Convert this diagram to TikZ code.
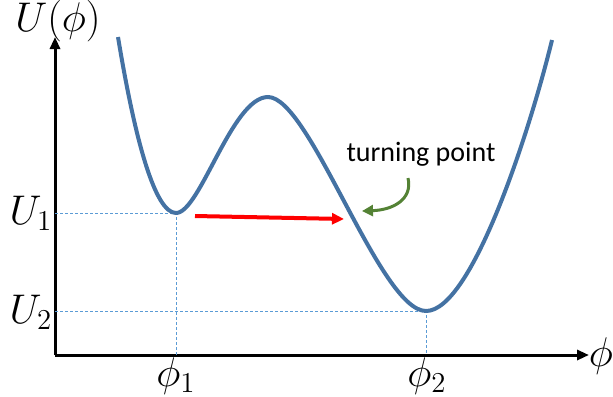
\documentclass[tikz,border=0pt]{standalone}
\usepackage[no-math]{fontspec}
\setmainfont{Carlito}
\usepackage{tikz}
\usetikzlibrary{arrows.meta,positioning,calc}

\definecolor{curveblue}{RGB}{68,114,163}
\definecolor{guideblue}{RGB}{91,155,213}
\definecolor{turngreen}{RGB}{84,130,53}

\tikzset{
  axis/.style={line width=1.5pt,-{Triangle[length=6pt,width=5pt]}},
  potential/.style={curveblue,line width=2pt},
  guide/.style={guideblue,line width=0.5pt,dash pattern=on 1.5pt off 1pt},
  mathlabel/.style={font=\fontsize{20}{24}\selectfont,inner sep=0pt},
  jump/.style={red,line width=2pt,-{Triangle[length=6pt,width=5.5pt]}},
  turn/.style={turngreen,line width=1.5pt,-{Triangle[length=5.5pt,width=5.5pt]}}
}

\begin{document}
\begin{tikzpicture}[x=0.5pt,y=-0.5pt]
  \useasboundingbox (0,0) rectangle (613,396);

  % axes
  \coordinate (O) at (55,355);
  \coordinate (ytop) at (55,37);
  \coordinate (xend) at (589,355);
  \draw[axis] (O) -- (ytop);
  \draw[axis] (O) -- (xend);

  % extrema of U
  \coordinate (min1) at (176,213);
  \coordinate (max) at (268,97);
  \coordinate (min2) at (426,311);

  % guide lines
  \coordinate (u1) at (55,213);
  \coordinate (u2) at (55,311);
  \coordinate (p1) at (176,355);
  \coordinate (p2) at (426,355);
  \draw[guide] (u1) -- (min1) -- (p1);
  \draw[guide] (u2) -- (min2) -- (p2);

  % the potential
  \draw[potential] (118,37) .. controls (135,140) and (155,213) .. (min1)
    .. controls (200,213) and (232,97) .. (max)
    .. controls (310,97) and (380,311) .. (min2)
    .. controls (472,311) and (530,130) .. (552,40);

  % labels
  \node[mathlabel] (Ulab) at (58,21) {$U(\phi)$};
  \node[mathlabel] (philab) at (601,356) {$\phi$};
  \node[mathlabel] (U1) at (31,213) {$U_1$};
  \node[mathlabel] (U2) at (31,312) {$U_2$};
  \node[mathlabel] (phi1) at (176,376) {$\phi_1$};
  \node[mathlabel] (phi2) at (427,376) {$\phi_2$};

  % tunnelling and turning point
  \coordinate (jumpA) at (195,216);
  \coordinate (jumpB) at (344,219);
  \draw[jump] (jumpA) -- (jumpB);
  \node[font=\fontsize{14}{17}\selectfont] (tp) at (421,154) {turning point};
  \coordinate (tpfoot) at (408,178);
  \coordinate (tphit) at (362,211);
  \draw[turn] (tpfoot) .. controls (413,200) and (392,210) .. (tphit);
\end{tikzpicture}
\end{document}
